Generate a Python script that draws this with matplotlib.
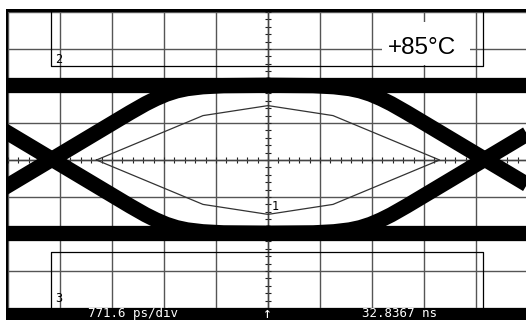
import matplotlib
matplotlib.use("Agg")
import matplotlib.pyplot as plt
import numpy as np
from matplotlib.patches import Rectangle
from matplotlib.ticker import MultipleLocator

# ---------------------------------------------------------------------------
# Eye diagram, in graticule divisions
# (x: 771.6 ps/div, 10 div wide; y: 8 div high, 0 = screen centre)
# ---------------------------------------------------------------------------

crossing_times = [0.846, 9.17]
rail_levels = [2.02, -1.98]          # logic 1 / logic 0
# one edge, from the crossing outwards: time offset (div) vs fraction of half swing
edge_offset = [0.0, 0.5, 1.0, 1.5, 1.8, 2.0, 2.2, 2.4, 2.6, 2.9, 3.3, 4.2]
edge_fraction = [0.0, 0.21, 0.42, 0.63, 0.75, 0.82, 0.88, 0.925, 0.955, 0.98, 0.995, 1.0]

# eye mask outline
mask_x = [1.70, 3.75, 5.0, 6.25, 8.30, 6.25, 5.0, 3.75, 1.70]
mask_y = [0.0, 1.20, 1.47, 1.20, 0.0, -1.20, -1.47, -1.20, 0.0]

# channel marker boxes (2 on top, 3 at bottom)
marker_x = [0.83, 9.13]
marker_y = [2.54, -2.49]

timebase = "771.6 ps/div"
position = "32.8367 ns"
temperature = "+85°C"

W, H = 526, 320
EYE_LW = 11
GRID = "#555555"


def px_rect(x0, y0, x1, y1, **kw):
    """Rectangle given in image pixels (origin top-left)."""
    return Rectangle((x0 / W, 1 - y1 / H), (x1 - x0) / W, (y1 - y0) / H,
                     transform=fig.transFigure, **kw)


fig = plt.figure(figsize=(W / 100, H / 100), dpi=100)
fig.patch.set_facecolor("white")

ax = fig.add_axes([7 / W, 1 - 308 / H, (526 - 7) / W, (308 - 12) / H])
ax.set_xlim((7 - 8) / 52, (526 - 8) / 52)
ax.set_ylim(-4, 4)
ax.set_facecolor("white")

# graticule + centre axes with minor ticks
ax.xaxis.set_major_locator(MultipleLocator(1))
ax.yaxis.set_major_locator(MultipleLocator(1))
ax.xaxis.set_minor_locator(MultipleLocator(0.2))
ax.yaxis.set_minor_locator(MultipleLocator(0.2))
ax.grid(which="major", color=GRID, lw=1.0)
ax.set_axisbelow(True)
for side in ("top", "right"):
    ax.spines[side].set_visible(False)
ax.spines["left"].set_position(("data", 5))
ax.spines["bottom"].set_position(("data", 0))
for side in ("left", "bottom"):
    ax.spines[side].set_color("#444444")
    ax.spines[side].set_linewidth(1.0)
ax.tick_params(which="both", direction="inout", length=4, width=0.8,
               color="#222222", labelbottom=False, labelleft=False)

# eye traces
hi, lo = rail_levels
mid, half = (hi + lo) / 2, (hi - lo) / 2
off = np.asarray(edge_offset)
frac = np.asarray(edge_fraction)
dt = np.concatenate([-off[::-1], off[1:]])
shape = np.concatenate([-frac[::-1], frac[1:]])

for level in rail_levels:
    ax.axhline(level, color="black", lw=EYE_LW, zorder=3, solid_capstyle="butt")
for tc in crossing_times:
    for sign in (1, -1):
        ax.plot(tc + dt, mid + sign * half * shape, color="black", lw=EYE_LW,
                solid_joinstyle="round", solid_capstyle="butt", zorder=3)

# mask
ax.plot(mask_x, mask_y, color="#333333", lw=0.9, zorder=4)

# channel marker boxes
x0, x1 = marker_x
for y, edge in zip(marker_y, (4, -4)):
    ax.plot([x0, x0, x1, x1], [edge, y, y, edge], color="black", lw=0.9, zorder=2.8)

ax.text(0.98, 2.72, "2", family="DejaVu Sans Mono", fontsize=8.5,
        ha="center", va="center", zorder=5)
ax.text(0.98, -3.74, "3", family="DejaVu Sans Mono", fontsize=8.5,
        ha="center", va="center", zorder=5)
ax.text(5.14, -1.27, "1", family="DejaVu Sans Mono", fontsize=8.5,
        ha="center", va="center", zorder=5)

# temperature label on a white patch
ax.add_patch(Rectangle(((382 - 8) / 52, (160 - 65) / 37), 88 / 52, 43 / 37,
                       facecolor="white", edgecolor="none", zorder=2.6))
ax.text(7.97, (160 - 53.5) / 37, temperature, family="Liberation Sans",
        fontsize=17.5, ha="center", va="baseline", zorder=5)

# screen frame and status bar
fig.add_artist(px_rect(7, 9, 526, 12, color="black", lw=0))
fig.add_artist(px_rect(6, 9, 8, 320, color="black", lw=0))
fig.add_artist(px_rect(7, 308, 526, 320, color="black", lw=0))

bar_kw = dict(color="white", family="DejaVu Sans Mono", va="baseline")
fig.text(88 / W, 1 - 317 / H, timebase, ha="left", fontsize=9, **bar_kw)
fig.text(267 / W, 1 - 318 / H, "↑", ha="center", fontsize=10.5, **bar_kw)
fig.text(362 / W, 1 - 317 / H, position, ha="left", fontsize=9, **bar_kw)

fig.savefig("out.png", dpi=100, facecolor="white")
